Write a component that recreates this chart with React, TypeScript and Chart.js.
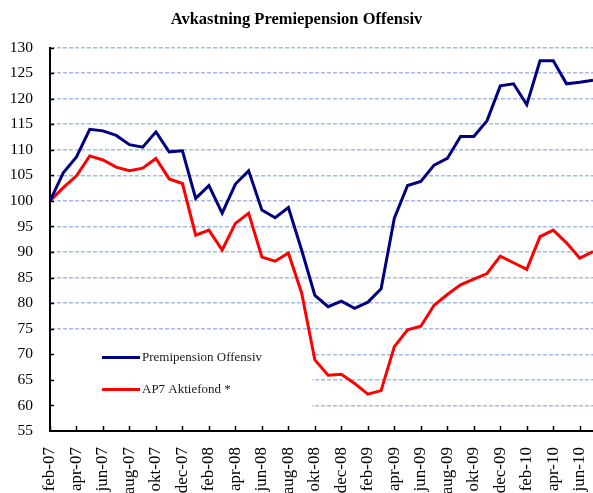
import React, { useEffect, useRef } from "react";
import { Chart, registerables } from "chart.js";

Chart.register(...registerables);

const months = [
  "feb-07", "mar-07", "apr-07", "maj-07", "jun-07", "jul-07", "aug-07", "sep-07", "okt-07", "nov-07", "dec-07",
  "jan-08", "feb-08", "mar-08", "apr-08", "maj-08", "jun-08", "jul-08", "aug-08", "sep-08", "okt-08", "nov-08", "dec-08",
  "jan-09", "feb-09", "mar-09", "apr-09", "maj-09", "jun-09", "jul-09", "aug-09", "sep-09", "okt-09", "nov-09", "dec-09",
  "jan-10", "feb-10", "mar-10", "apr-10", "maj-10", "jun-10", "jul-10",
];

const premiepensionOffensiv = [
  100, 105.5, 108.6, 114.0, 113.7, 112.8, 111.0, 110.5, 113.5, 109.6, 109.8,
  100.5, 103.0, 97.6, 103.3, 105.9, 98.2, 96.7, 98.7, 90.4, 81.5, 79.3, 80.4,
  79.0, 80.2, 82.8, 96.6, 103.0, 103.8, 107.0, 108.3, 112.6, 112.6, 115.7, 122.5,
  122.9, 118.8, 127.4, 127.4, 122.9, 123.2, 123.6,
];

const ap7Aktiefond = [
  100, 102.6, 104.9, 108.8, 108.0, 106.6, 105.9, 106.4, 108.3, 104.3, 103.4,
  93.3, 94.3, 90.4, 95.6, 97.6, 89.0, 88.2, 89.8, 82.0, 68.9, 65.9, 66.1,
  64.3, 62.2, 62.9, 71.5, 74.8, 75.5, 79.6, 81.7, 83.6, 84.7, 85.8, 89.2,
  87.9, 86.6, 93.0, 94.3, 91.8, 88.8, 90.1,
];

const seriesNames = ["Premipension Offensiv", "AP7 Aktiefond *"];
const seriesColors = ["#000080", "#ff0000"];
const yMin = 55;
const yMax = 130;
const yStep = 5;
const titleText = "Avkastning Premiepension Offensiv";

const SERIF = "'Liberation Serif', 'Times New Roman', serif";

const decorPlugin = {
  id: "decor",
  beforeDatasetsDraw(chart: any) {
    const { ctx, chartArea } = chart;
    const y = chart.scales.y;
    ctx.save();
    ctx.fillStyle = "#ffffff";
    const top = y.getPixelForValue(72.5) + 3;
    ctx.fillRect(chartArea.left + 1.5, top, 312 - chartArea.left - 1.5, chartArea.bottom - 1.5 - top);
    ctx.restore();
  },
  afterDatasetsDraw(chart: any) {
    const { ctx, chartArea } = chart;
    const x = chart.scales.x;
    const y = chart.scales.y;
    ctx.save();
    ctx.strokeStyle = "#000000";
    ctx.lineWidth = 1.5;
    ctx.beginPath();
    for (let i = 0; i < months.length; i += 2) {
      const px = Math.round(x.getPixelForValue(i)) + 0.5;
      ctx.moveTo(px, chartArea.bottom);
      ctx.lineTo(px, chartArea.bottom - 5);
    }
    for (let v = yMin + yStep; v <= yMax; v += yStep) {
      const py = Math.round(y.getPixelForValue(v)) + 0.5;
      ctx.moveTo(chartArea.left, py);
      ctx.lineTo(chartArea.left + 4, py);
    }
    ctx.stroke();

    // legend
    const rows = [357.5, 389.5];
    ctx.font = `13px ${SERIF}`;
    ctx.textBaseline = "middle";
    ctx.textAlign = "left";
    seriesNames.forEach((name, i) => {
      ctx.strokeStyle = seriesColors[i];
      ctx.lineWidth = 3;
      ctx.beginPath();
      ctx.moveTo(102, rows[i]);
      ctx.lineTo(140, rows[i]);
      ctx.stroke();
      ctx.fillStyle = "#1a1a1a";
      ctx.fillText(name, 142, rows[i] + 0.5);
    });
    ctx.restore();
  },
};

export default function App() {
  const canvasRef = useRef<HTMLCanvasElement | null>(null);

  useEffect(() => {
    const canvas = canvasRef.current;
    if (!canvas) return;
    const chart = new Chart(canvas, {
      type: "line",
      data: {
        datasets: [
          {
            label: seriesNames[0],
            data: premiepensionOffensiv.map((v, i) => ({ x: i, y: v })),
            borderColor: seriesColors[0],
            backgroundColor: seriesColors[0],
            borderWidth: 3,
            pointRadius: 0,
            tension: 0,
          },
          {
            label: seriesNames[1],
            data: ap7Aktiefond.map((v, i) => ({ x: i, y: v })),
            borderColor: seriesColors[1],
            backgroundColor: seriesColors[1],
            borderWidth: 3,
            pointRadius: 0,
            tension: 0,
          },
        ],
      },
      options: {
        responsive: false,
        animation: false,
        events: [],
        layout: { padding: 0 },
        plugins: {
          legend: { display: false },
          tooltip: { enabled: false },
          title: {
            display: true,
            text: titleText,
            color: "#000000",
            font: { family: SERIF, size: 16.5, weight: "bold" },
            padding: { top: 10.2, bottom: 17.5 },
          },
        },
        scales: {
          x: {
            type: "linear",
            min: 0,
            max: months.length - 1,
            afterFit(scale: any) {
              scale.height = 62;
              scale.paddingLeft = 0;
              scale.paddingRight = 0;
            },
            grid: { display: false, drawTicks: false },
            border: { display: true, color: "#000000", width: 2 },
            ticks: {
              stepSize: 2,
              includeBounds: false,
              autoSkip: false,
              minRotation: 90,
              maxRotation: 90,
              padding: 16,
              color: "#000000",
              font: { family: SERIF, size: 17 },
              callback: (v: any) => months[v as number] ?? "",
            },
          },
          y: {
            type: "linear",
            min: yMin,
            max: yMax,
            afterFit(scale: any) {
              scale.width = 50;
            },
            grid: { color: "#a3bbe5", lineWidth: 1.5, drawTicks: false },
            border: { display: true, color: "#000000", width: 2, dash: [4, 2] },
            ticks: {
              stepSize: yStep,
              padding: 17,
              color: "#000000",
              font: { family: SERIF, size: 15.5 },
            },
          },
        },
      },
      plugins: [decorPlugin],
    });
    return () => chart.destroy();
  }, []);

  return (
    <div style={{ position: "absolute", left: 0, top: 0, width: 593, height: 493, background: "#ffffff" }}>
      <canvas ref={canvasRef} width={593} height={493} style={{ display: "block" }} />
    </div>
  );
}
